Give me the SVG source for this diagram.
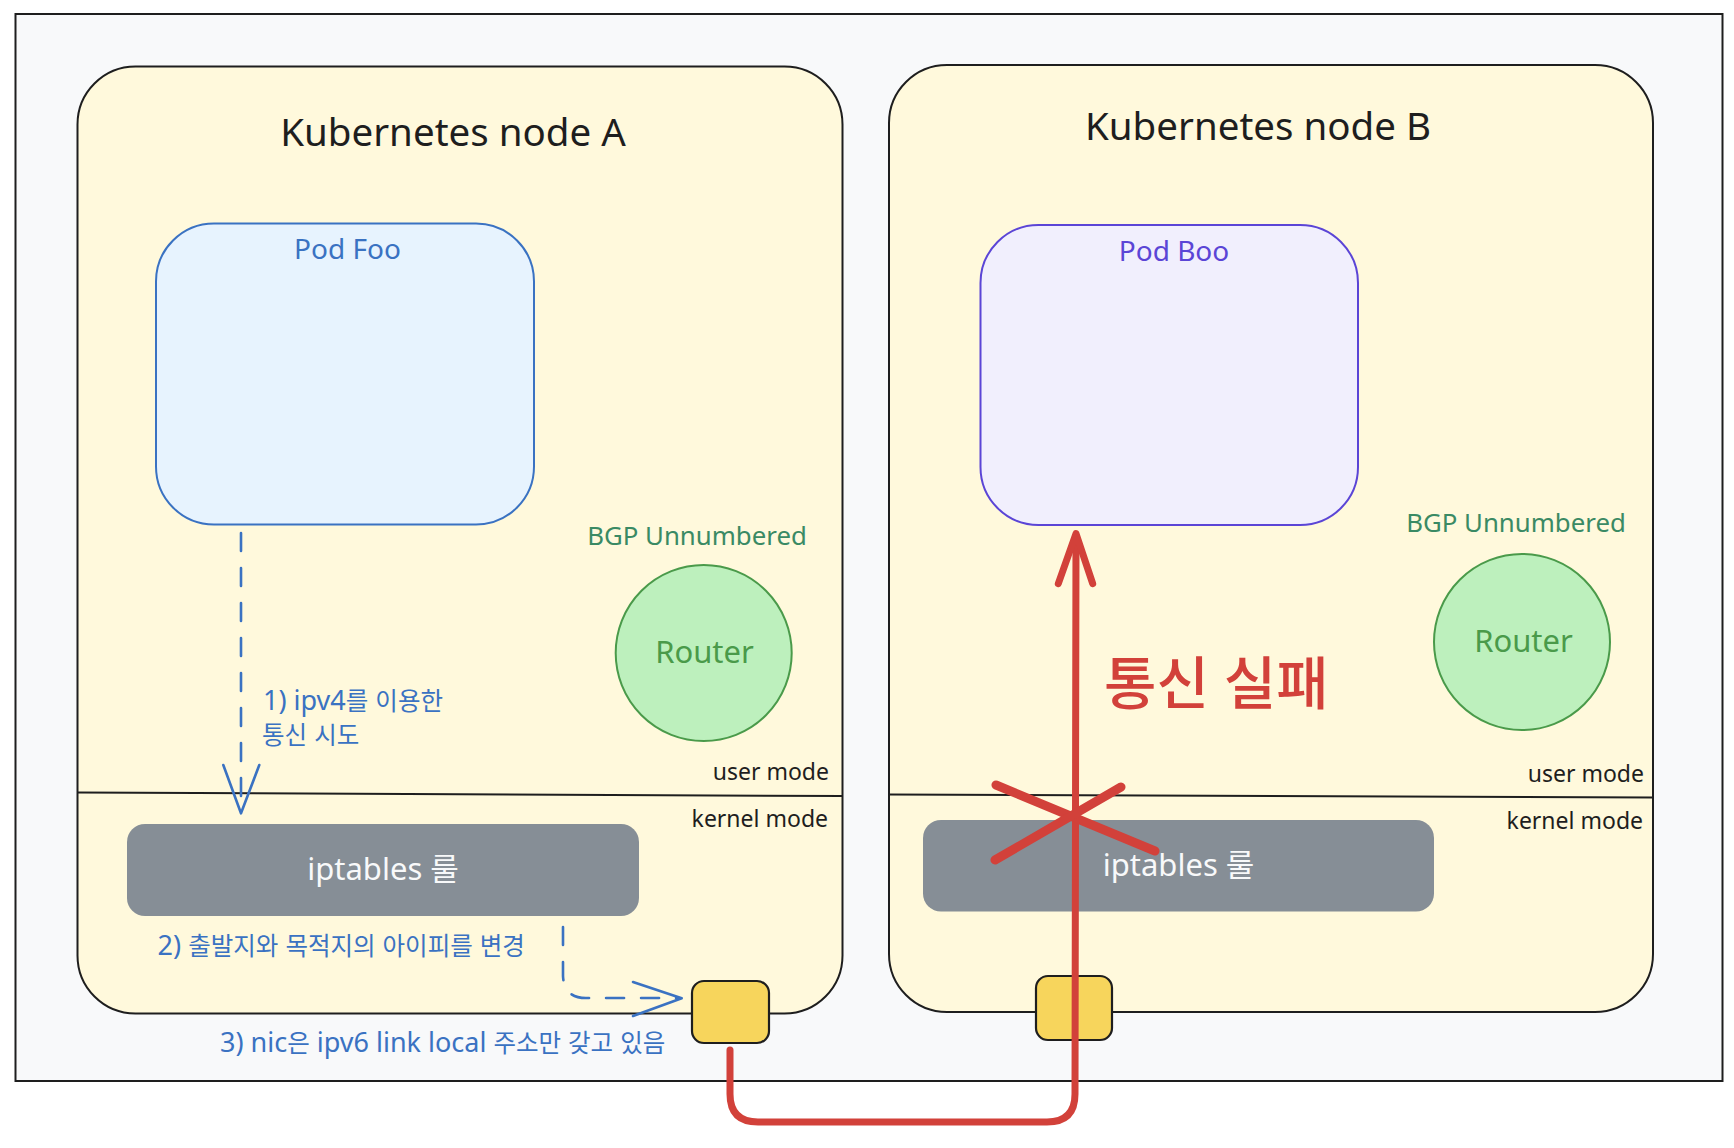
<svg xmlns="http://www.w3.org/2000/svg" width="1734" height="1148" viewBox="0 0 1734 1148">
<defs>
<style>
text{font-family:"Noto Sans","Noto Sans CJK KR",sans-serif}
.title{font-size:38.5px;fill:#1e1e1e;text-anchor:middle}
.pod{font-size:28px;text-anchor:middle}
.bgp{font-size:25.8px;fill:#3a8a64;text-anchor:middle}
.rt{font-size:31px;fill:#4a9a4a;text-anchor:middle}
.mode{font-size:23px;fill:#1e1e1e;text-anchor:end}
.ipt{font-size:31px;fill:#f8f9fa;text-anchor:middle}
.lbl{font-size:27px;fill:#3a72c2}
.ko{font-size:24.5px}
.node{fill:#fff9dc;stroke:#1e1e1e;stroke-width:2}
.sep{stroke:#1e1e1e;stroke-width:2;fill:none}
.router{fill:#bdf0bd;stroke:#4a9a4a;stroke-width:2}
.iptbox{fill:#868e96}
.nic{fill:#f7d55c;stroke:#1e1e1e;stroke-width:2.2}
.dash{fill:none;stroke:#3a72c2;stroke-width:2.6;stroke-dasharray:18 17;stroke-linecap:round}
.head{fill:none;stroke:#3a72c2;stroke-width:2.6;stroke-linecap:round;stroke-linejoin:round}
.red{fill:none;stroke:#d2413a;stroke-width:7;stroke-linecap:round;stroke-linejoin:round}
.redx{fill:none;stroke:#d2413a;stroke-width:9;stroke-linecap:round}
</style>
</defs>
<g id="frame">
<rect x="15.5" y="14" width="1707" height="1067" fill="#f8f9fa" stroke="#1e1e1e" stroke-width="2"/>
</g>
<g id="nodeA">
<rect class="node" x="77.5" y="66.5" width="765" height="947" rx="58" ry="58"/>
<text class="title" x="453" y="145.7">Kubernetes node A</text>
<path class="sep" d="M77.5 792.5 L842.5 796"/>
<text class="mode" x="829" y="780">user mode</text>
<text class="mode" x="828" y="826.6">kernel mode</text>
</g>
<g id="nodeB">
<rect class="node" x="889" y="65" width="764" height="947" rx="58" ry="58"/>
<text class="title" x="1258" y="140.2">Kubernetes node B</text>
<path class="sep" d="M889 794.5 L1653 797.5"/>
<text class="mode" x="1644" y="782">user mode</text>
<text class="mode" x="1643" y="829">kernel mode</text>
</g>
<g id="podFoo">
<rect x="156" y="223.5" width="378" height="301" rx="58" ry="58" fill="#e7f3fe" stroke="#3a72c2" stroke-width="2"/>
<text class="pod" x="347.5" y="259" fill="#3a72c2">Pod Foo</text>
</g>
<g id="podBoo">
<rect x="980.5" y="225" width="377.5" height="300" rx="58" ry="58" fill="#f1effd" stroke="#5b45d6" stroke-width="2"/>
<text class="pod" x="1174" y="260.6" fill="#5b45d6">Pod Boo</text>
</g>
<g id="routerA">
<text class="bgp" x="697" y="544.7">BGP Unnumbered</text>
<circle class="router" cx="703.7" cy="653" r="88"/>
<text class="rt" x="704.5" y="662.7">Router</text>
</g>
<g id="routerB">
<text class="bgp" x="1516" y="531.5">BGP Unnumbered</text>
<circle class="router" cx="1522" cy="642" r="88"/>
<text class="rt" x="1523.5" y="651.6">Router</text>
</g>
<g id="iptablesA">
<rect class="iptbox" x="127" y="824" width="512" height="92" rx="18" ry="18"/>
<text class="ipt" x="383" y="880">iptables 룰</text>
</g>
<g id="iptablesB">
<rect class="iptbox" x="923" y="820" width="511" height="91.5" rx="18" ry="18"/>
<text class="ipt" x="1178.5" y="876.4">iptables 룰</text>
</g>
<g id="nicA">
<rect class="nic" x="692" y="981" width="77" height="62" rx="12" ry="12"/>
</g>
<g id="nicB">
<rect class="nic" x="1036" y="976" width="76" height="64" rx="12" ry="12"/>
</g>
<g id="labels">
<text class="lbl" x="263" y="710">1) ipv4<tspan class="ko">를</tspan> <tspan class="ko">이용한</tspan></text>
<text class="lbl" x="262" y="744.3"><tspan class="ko">통신</tspan> <tspan class="ko">시도</tspan></text>
<text class="lbl" x="157.6" y="954.7">2) <tspan class="ko">출발지와</tspan> <tspan class="ko">목적지의</tspan> <tspan class="ko">아이피를</tspan> <tspan class="ko">변경</tspan></text>
<text class="lbl" x="220" y="1052">3) nic<tspan class="ko">은</tspan> ipv6 link local <tspan class="ko">주소만</tspan> <tspan class="ko">갖고</tspan> <tspan class="ko">있음</tspan></text>
<text x="1104" y="704" font-size="57" font-weight="500" fill="#d2413a">통신 실패</text>
</g>
<g id="connectors">
<path class="dash" d="M241 533 L241 811"/>
<polyline class="head" points="223.3,765 241,813.3 259.3,765"/>
<path class="dash" d="M563 927 L563 976 Q564 998 586 998 L678 998"/>
<polyline class="head" points="633,982 681.7,998.3 633,1016"/>
<path class="red" d="M730 1050 L730 1094 Q730 1122 758 1122 L1047 1122 Q1075 1122 1075 1094 L1076 536"/>
<polyline class="red" points="1058.3,583.6 1076,533.6 1092.7,583.6"/>
<path class="redx" d="M996 785 L1155 851"/>
<path class="redx" d="M1121 787 L995 860"/>
</g>
</svg>
